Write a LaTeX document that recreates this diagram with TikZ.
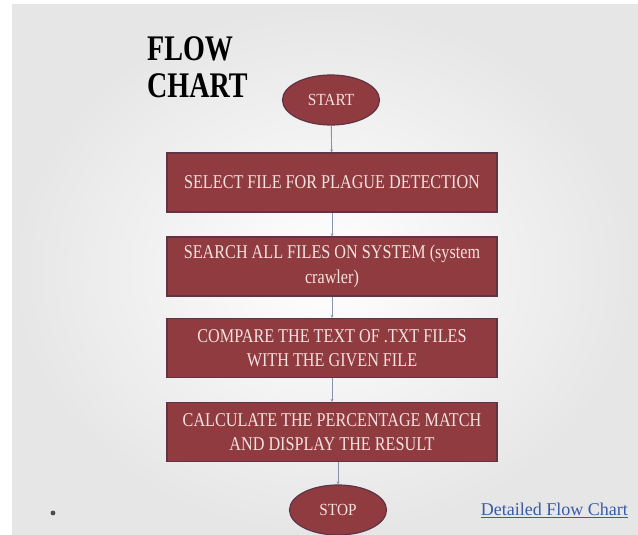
\documentclass[tikz,border=0pt]{standalone}
\usepackage{fontspec}
\setmainfont{Liberation Serif}
\newfontfamily\boxfont[FakeStretch=0.83]{Liberation Serif}
\newfontfamily\termfont[FakeStretch=0.9]{Liberation Serif}
\newfontfamily\titlefont[FakeStretch=0.78]{Liberation Serif}
\usetikzlibrary{shapes.geometric,arrows.meta}
\definecolor{boxred}{HTML}{8F3B40}
\definecolor{boxedge}{HTML}{5E3446}
\definecolor{boxtext}{HTML}{F6E2DE}
\definecolor{linkblue}{HTML}{3A5BA6}
\definecolor{connector}{HTML}{8A94A8}
\definecolor{bgedge}{HTML}{E6E6E6}
\tikzset{
  stepbox/.style={rectangle, fill=boxred, draw=boxedge, line width=1.2pt,
    minimum width=330pt, minimum height=59pt, inner sep=0pt, align=center,
    text=boxtext, font=\boxfont\fontsize{19.5}{24.5}\selectfont},
  terminal/.style={ellipse, fill=boxred, draw=boxedge, line width=1.2pt,
    minimum width=97pt, minimum height=50pt, inner sep=0pt,
    text=boxtext, font=\termfont\fontsize{17}{19}\selectfont},
  flowline/.style={draw=connector, line width=0.9pt, -{Stealth[length=3pt,width=3pt]}},
  titletext/.style={anchor=base west, inner sep=0pt, font=\titlefont\bfseries\fontsize{36}{40}\selectfont}
}
\begin{document}
\begin{tikzpicture}[x=1pt,y=-1pt]
\useasboundingbox (0,0) rectangle (638,535);
\fill[white] (0,0) rectangle (638,535);
\shade[inner color=white, outer color=bgedge] (12,5) rectangle (638,535);
\node[titletext] (t1) at (147,61) {FLOW};
\node[titletext] (t2) at (147,98) {CHART};
\node[terminal] (start) at (331,100) {START};
\node[stepbox] (b1) at (332,182.5) {SELECT FILE FOR PLAGUE DETECTION};
\node[stepbox] (b2) at (332,266.5) {SEARCH ALL FILES ON SYSTEM (system\\crawler)};
\node[stepbox] (b3) at (332,348) {COMPARE THE TEXT OF .TXT FILES\\WITH THE GIVEN FILE};
\node[stepbox] (b4) at (332,432) {CALCULATE THE PERCENTAGE MATCH\\AND DISPLAY THE RESULT};
\node[terminal] (stop) at (338,510) {STOP};
\draw[flowline] (start) -- (b1);
\draw[flowline] (b1) -- (b2);
\draw[flowline] (b2) -- (b3);
\draw[flowline] (b3) -- (b4);
\draw[flowline] (stop.north |- b4.south) -- (stop);
\node[anchor=base east, inner sep=0pt, text=linkblue, font=\fontsize{18}{21}\selectfont] (link) at (628,515) {Detailed Flow Chart};
\draw[linkblue, line width=0.7pt] ([yshift=-2pt]link.base west) -- ([yshift=-2pt]link.base east);
\fill[gray!60!black] (53,513) circle (2.4pt);
\end{tikzpicture}
\end{document}
